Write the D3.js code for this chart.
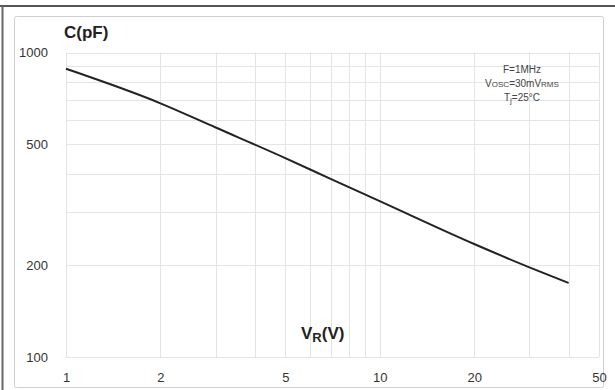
<!DOCTYPE html>
<html><head><meta charset="utf-8">
<script src="https://cdn.jsdelivr.net/npm/d3@7"></script>
<style>body{margin:0;background:#fff}svg{display:block;font-family:"Liberation Sans",Arial,sans-serif}</style>
</head><body>
<svg id="c" width="615" height="390"></svg>
<script>
const voltage = [1, 2, 3, 5, 7, 10, 20, 30, 40];
const capacitance = [884, 681, 567, 450, 384, 325, 235, 197, 175];
const xTicks = [1, 2, 5, 10, 20, 50];
const yTicks = [100, 200, 500, 1000];
const xGrid = [1,2,3,4,5,6,7,8,9,10,20,30,40,50];
const yGrid = [100,200,300,400,500,600,700,800,900,1000];

const svg = d3.select("#c");
const L = 66, R = 599, T = 52.5, B = 357;
const x = d3.scaleLog().domain([1, 50]).range([L, R]);
const y = d3.scaleLog().domain([100, 1000]).range([B, T]);

// frame
svg.append("rect").attr("x",14.5).attr("y",16.5).attr("width",589).attr("height",371)
  .attr("rx",2).attr("fill","#fff").attr("stroke","#cfcfcf").attr("stroke-width",1);
svg.append("line").attr("x1",0).attr("x2",615).attr("y1",6).attr("y2",6).attr("stroke","#555").attr("stroke-width",2);
svg.append("line").attr("x1",2.5).attr("x2",2.5).attr("y1",6).attr("y2",390).attr("stroke","#666").attr("stroke-width",2);

// grid
const g = svg.append("g");
g.selectAll(".vx").data(xGrid).join("line")
  .attr("x1",d=>Math.round(x(d))+0.5).attr("x2",d=>Math.round(x(d))+0.5)
  .attr("y1",T).attr("y2",B).attr("stroke","#e4e4e4").attr("stroke-width",1);
g.selectAll(".hy").data(yGrid).join("line")
  .attr("y1",d=>Math.round(y(d))+0.5).attr("y2",d=>Math.round(y(d))+0.5)
  .attr("x1",L).attr("x2",R).attr("stroke","#e4e4e4").attr("stroke-width",1);

// axes labels via d3 axes
const xAxis = d3.axisBottom(x).tickValues(xTicks).tickFormat(d3.format("d")).tickSize(0).tickPadding(0);
const xa = svg.append("g").attr("transform",`translate(0,${B+16})`).call(xAxis);
xa.select(".domain").remove();
xa.selectAll("text").attr("font-size",13).attr("fill","#333").attr("font-family","Liberation Sans, Arial, sans-serif");

const yAxis = d3.axisLeft(y).tickValues(yTicks).tickFormat(d3.format("d")).tickSize(0).tickPadding(0);
const ya = svg.append("g").attr("transform",`translate(48,0)`).call(yAxis);
ya.select(".domain").remove();
ya.selectAll("text").attr("font-size",13).attr("fill","#333").attr("font-family","Liberation Sans, Arial, sans-serif");

// curve
const line = d3.line().x((d,i)=>x(voltage[i])).y(d=>y(d)).curve(d3.curveMonotoneX);
svg.append("path").datum(capacitance).attr("d",line).attr("fill","none")
  .attr("stroke","#222").attr("stroke-width",2);

// axis titles
svg.append("text").attr("x",64).attr("y",38).attr("font-size",17).attr("font-weight","bold").attr("fill","#222").text("C(pF)");
const vt = svg.append("text").attr("x",301).attr("y",339).attr("font-size",17).attr("font-weight","bold").attr("fill","#222");
vt.append("tspan").text("V");
vt.append("tspan").attr("font-size",13).attr("dy",3).text("R");
vt.append("tspan").attr("dy",-3).text("(V)");

// annotation
const ann = svg.append("g").attr("font-size",10).attr("text-anchor","middle");
ann.append("text").attr("x",522).attr("y",73).attr("fill","#444").text("F=1MHz");
const a2 = ann.append("text").attr("x",522).attr("y",87).attr("fill","#444");
a2.append("tspan").attr("fill","#444").text("V");
a2.append("tspan").attr("fill","#444").attr("font-size",8).text("OSC");
a2.append("tspan").attr("fill","#444").text("=30mV");
a2.append("tspan").attr("fill","#444").attr("font-size",8).text("RMS");
const a3 = ann.append("text").attr("x",522).attr("y",101).attr("fill","#444");
a3.append("tspan").attr("fill","#444").text("T");
a3.append("tspan").attr("fill","#444").attr("font-size",8).attr("dy",2).text("j");
a3.append("tspan").attr("fill","#444").attr("dy",-2).text("=25°C");
</script>
</body></html>
